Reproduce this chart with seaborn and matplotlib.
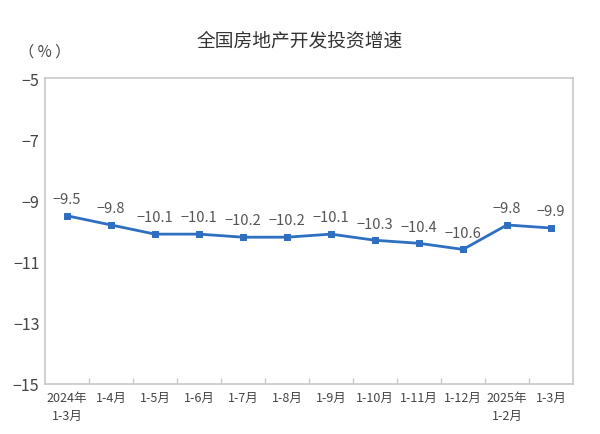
import numpy as np
import pandas as pd
import seaborn as sns
import matplotlib.pyplot as plt
from matplotlib.ticker import FixedLocator

sns.set_theme(style="white")
plt.rcParams["font.family"] = ["Noto Sans CJK SC", "DejaVu Sans"]
plt.rcParams["axes.unicode_minus"] = True

periods = ["2024年\n1-3月", "1-4月", "1-5月", "1-6月", "1-7月", "1-8月",
           "1-9月", "1-10月", "1-11月", "1-12月", "2025年\n1-2月", "1-3月"]
growth = [-9.5, -9.8, -10.1, -10.1, -10.2, -10.2, -10.1, -10.3, -10.4, -10.6, -9.8, -9.9]
y_ticks = [-5, -7, -9, -11, -13, -15]

df = pd.DataFrame({"pos": np.arange(len(periods)), "growth": growth})

line_color = "#2f6fc1"
grey = "#c8c8c8"
text_color = "#444444"

fig = plt.figure(figsize=(6, 4.35), dpi=100)
ax = fig.add_axes([0.075, 0.115, 0.88, 0.703])

sns.lineplot(data=df, x="pos", y="growth", ax=ax, color=line_color, linewidth=2.0,
             marker="s", markersize=4.5, markeredgecolor=line_color)

for x, y in zip(df["pos"], df["growth"]):
    ax.annotate(f"\u2212{abs(y):.1f}", (x, y), xytext=(0, 7), textcoords="offset points",
                ha="center", va="bottom", fontsize=10.5, color="#555555")

ax.set_xlim(-0.5, len(periods) - 0.5)
ax.set_ylim(-15, -5)
ax.set_yticks(y_ticks)
ax.set_yticklabels([f"\u2212{abs(t)}" for t in y_ticks], fontsize=11.5, color=text_color)
ax.set_xticks(df["pos"])
ax.set_xticklabels(periods, fontsize=9, color=text_color, linespacing=1.5, va="top")
ax.xaxis.set_minor_locator(FixedLocator(np.arange(0.5, len(periods) - 1, 1)))
ax.tick_params(axis="x", which="major", length=0, pad=5)
ax.tick_params(axis="x", which="minor", length=4, color=grey, width=1, direction="in", bottom=True)
ax.tick_params(axis="y", length=0, pad=4)
for lbl in ax.get_xticklabels():
    lbl.set_multialignment("center")
ax.set_xlabel("")
ax.set_ylabel("")

for side in ["left", "right", "top", "bottom"]:
    ax.spines[side].set_visible(True)
    ax.spines[side].set_color(grey)
    ax.spines[side].set_linewidth(1.2)

fig.text(0.5, 0.905, "全国房地产开发投资增速", ha="center", va="center",
         fontsize=13.5, color="#333333")
fig.text(0.075, 0.88, "（ % ）", ha="center", va="center", fontsize=11, color=text_color)

fig.savefig("out.png", dpi=100)
